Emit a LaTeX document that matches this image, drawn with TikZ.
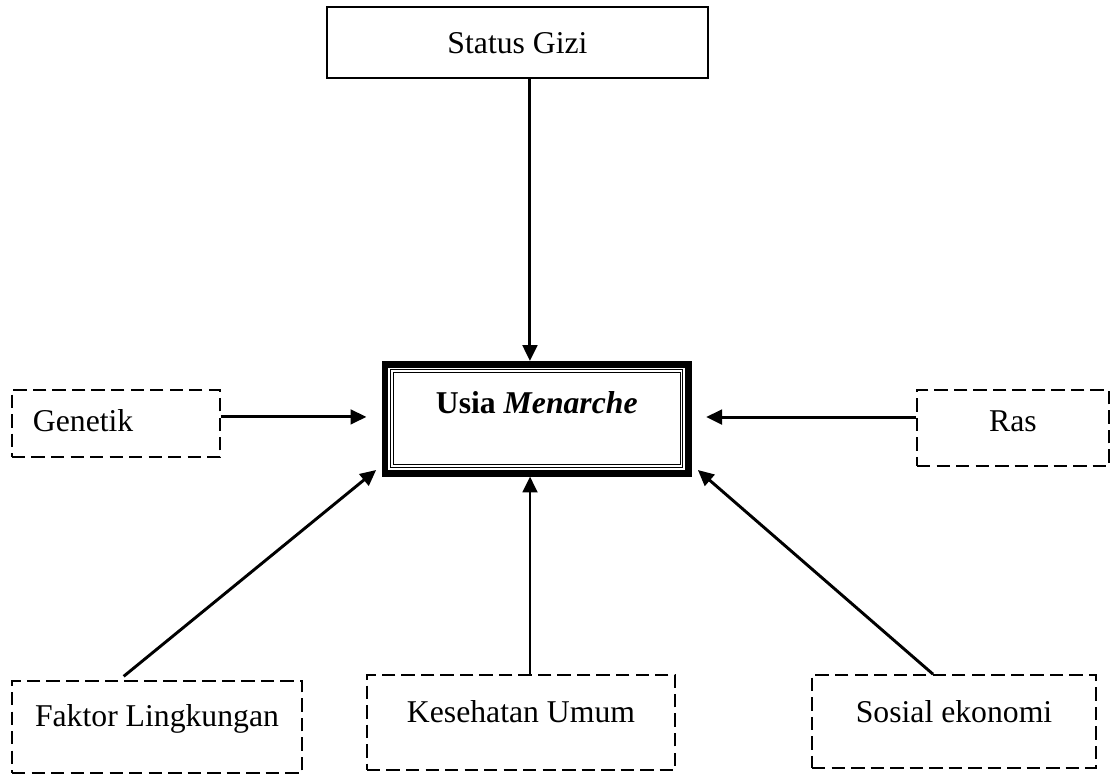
\documentclass[tikz,border=0pt]{standalone}
\usepackage{fontspec}
\setmainfont{Liberation Serif}
\usetikzlibrary{arrows.meta}

\begin{document}
\begin{tikzpicture}[
        x=0.41pt, y=-0.41pt,
        box/.style={rectangle, draw, line width=0.7pt, inner ysep=0pt,
                    text height=17pt, align=center,
                    font=\fontsize{13}{15}\selectfont},
        dbox/.style={box, dash pattern=on 5.5pt off 2.5pt},
        mainbox/.style={box, line width=2.7pt, text height=20pt,
                        text depth=24.7pt, minimum width=124.4pt},
        arr/.style={-{Triangle[length=6.5pt, width=6pt]}, line width=1.2pt},
    ]
    \useasboundingbox (0,0) rectangle (1110,774);

    % ---- Top: status gizi ----
    \node[box, minimum width=156.2pt, text height=19pt, text depth=10.1pt] (status) at (517.5,42.5) {Status Gizi};

    % ---- Centre: usia menarche (thick frame + double line) ----
    \node[mainbox] (usia) at (536.75,418.75) {\textbf{Usia \textit{Menarche}}};
    \draw[double, double distance=0.7pt, line width=0.4pt]
        ([shift={(4.2pt,-4.2pt)}]usia.north west) rectangle ([shift={(-4.2pt,4.2pt)}]usia.south east);

    % ---- Side factors ----
    \node[dbox, text width=68.1pt, inner xsep=8.6pt, align=left, text depth=10.5pt] (genetik) at (116,423.5) {Genetik};
    \node[dbox, minimum width=78.7pt, text depth=14.2pt] (ras) at (1013,428) {Ras};

    % ---- Bottom factors ----
    \node[dbox, minimum width=118.9pt, text height=18.6pt, text depth=19.1pt] (faktor) at (157,727) {Faktor Lingkungan};
    \node[dbox, minimum width=126.3pt, text height=19.5pt, text depth=19.5pt] (kesehatan) at (521,722.5) {Kesehatan Umum};
    \node[dbox, minimum width=116.4pt, text height=19.5pt, text depth=18.6pt] (sosial) at (954,721.5) {Sosial ekonomi};

    % ---- Arrows: every factor -> usia ----
    \draw[arr] ([xshift=5.1pt]status.south) -- ([xshift=5.1pt]status.south |- usia.north);
    \draw[arr, shorten >=6.3pt] ([yshift=2.7pt]genetik.east) -- ([yshift=2.7pt]genetik.east -| usia.west);
    \draw[arr, shorten >=5.9pt] ([yshift=4.5pt]ras.west) -- ([yshift=4.5pt]ras.west -| usia.east);
    \draw[arr, shorten <=2.5pt] ([xshift=-15.6pt]faktor.north) -- ([shift={(-2.3pt,2.7pt)}]usia.south west);
    \draw[arr] ([xshift=3.7pt]kesehatan.north) -- ([xshift=3.7pt]kesehatan.north |- usia.south);
    \draw[arr] ([xshift=-8.6pt]sosial.north) -- ([shift={(2.5pt,2.7pt)}]usia.south east);

\end{tikzpicture}
\end{document}
